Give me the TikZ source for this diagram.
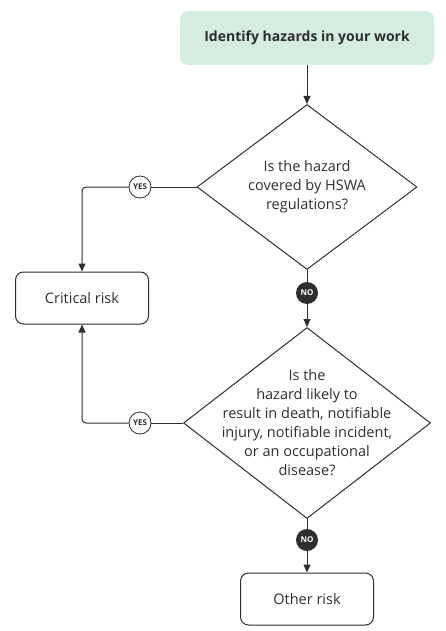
\documentclass[tikz,border=0pt]{standalone}
\usepackage{fontspec}
\setmainfont{Open Sans}
\usepackage{tikz}
\usetikzlibrary{shapes.geometric,arrows.meta}
\definecolor{ink}{HTML}{2E2E2E}
\definecolor{mint}{HTML}{D5ECE1}

\begin{document}
\begin{tikzpicture}[x=1pt,y=-1pt,
    every node/.style={text=ink,font=\fontsize{14.5}{19}\selectfont},
    line/.style={draw=ink,line width=1pt},
    arrow/.style={line,-{Triangle[length=8pt,width=7pt]}},
    startbox/.style={fill=mint,rounded corners=8pt,minimum width=254pt,minimum height=54pt,font=\fontsize{14}{19}\selectfont\bfseries},
    riskbox/.style={line,rounded corners=8pt,minimum height=52pt},
    decision/.style={line,diamond,inner sep=0pt},
    qtext/.style={align=center,inner sep=0pt},
    yesmark/.style={line,circle,fill=white,line width=0.8pt,minimum size=22pt,inner sep=0pt,font=\fontsize{8}{8}\selectfont\bfseries},
    nomark/.style={circle,fill=ink,minimum size=22pt,inner sep=0pt,text=white,font=\fontsize{8}{8}\selectfont\bfseries}]
  \useasboundingbox (0,0) rectangle (445,631);
  \node[startbox] (start) at (307,38) {Identify hazards in your work};
  \node[decision,minimum width=220pt,minimum height=165pt] (q1) at (307,187) {};
  \node[qtext] (q1t) at (q1) {Is the hazard\\covered by HSWA\\regulations?};
  \node[nomark] (no1) at (307,293) {NO};
  \node[decision,minimum width=247pt,minimum height=191pt] (q2) at (307,423) {};
  \node[qtext] (q2t) at (q2) {Is the\\hazard likely to\\result in death, notifiable\\injury, notifiable incident,\\or an occupational\\disease?};
  \node[nomark] (no2) at (307,540) {NO};
  \node[riskbox,minimum width=133pt] (crit) at (82,298) {Critical risk};
  \node[riskbox,minimum width=133pt] (other) at (307,599) {Other risk};
  \node[yesmark] (yes1) at (140,187) {YES};
  \node[yesmark] (yes2) at (140,423) {YES};
  \draw [arrow] (start) -- (q1.north);
  \draw [line] (q1.south) -- (no1);
  \draw [arrow] (no1) -- (q2.north);
  \draw [line] (q2.south) -- (no2);
  \draw [arrow] (no2) -- (other);
  \draw [line] (q1.west) -- (yes1);
  \draw [arrow,rounded corners=4pt] (yes1) -| (crit);
  \draw [line] (q2.west) -- (yes2);
  \draw [arrow,rounded corners=4pt] (yes2) -| (crit);
\end{tikzpicture}
\end{document}
